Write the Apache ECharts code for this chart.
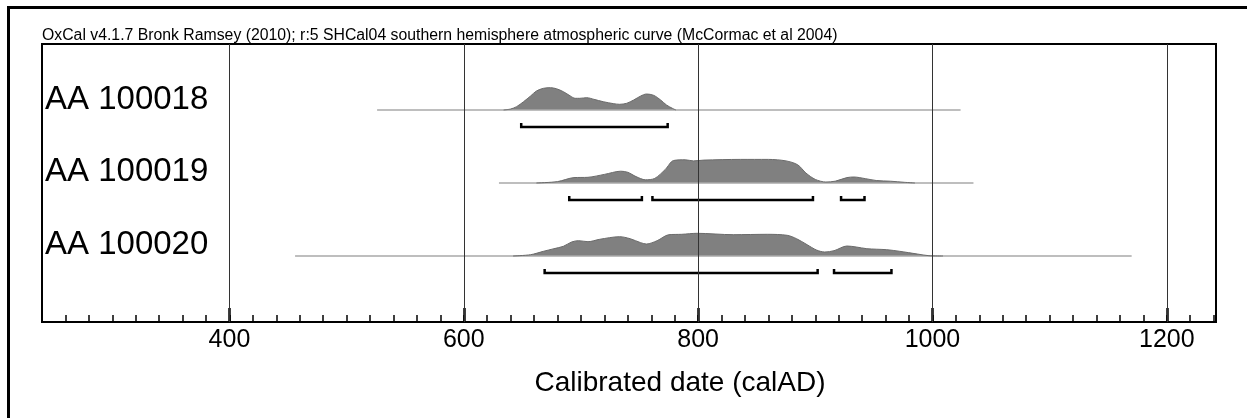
<!DOCTYPE html>
<html>
<head>
<meta charset="utf-8">
<script src="https://cdn.jsdelivr.net/npm/echarts@6/dist/echarts.min.js"></script>
<style>
  html, body { margin: 0; padding: 0; background: #fff; }
  #chart { width: 1247px; height: 418px; }
</style>
</head>
<body>
<div id="chart"></div>
<script>
// axis range (calAD) and tick values
const xMin = 240;
const xMax = 1242;
const majorTicks = [400, 600, 800, 1000, 1200];

const headerText = 'OxCal v4.1.7 Bronk Ramsey (2010); r:5 SHCal04 southern hemisphere atmospheric curve (McCormac et al 2004)';
const axisTitle = 'Calibrated date (calAD)';
const sampleNames = ['AA 100018', 'AA 100019', 'AA 100020'];

// extent of the thin line under each distribution
const extent18 = [526, 1024];
const extent19 = [630, 1035];
const extent20 = [456, 1170];

// probability distributions [year, relative height]
const density18 = [
    [634, 0], [640, 1], [645, 3.3], [651, 8.3], [657, 14], [662, 19], [668, 21.7],
    [674, 22.3], [679, 21.3], [685, 18.3], [691, 14], [695, 11.7], [699, 11.7],
    [705, 12.3], [711, 10.7], [719, 8.3], [728, 6.3], [733, 5.7], [739, 6.7],
    [745, 10], [751, 14], [756, 16], [762, 14.7], [768, 10], [773, 5], [778, 1.7], [781, 0]
];
const density19 = [
    [662, 0], [680, 1.4], [694, 5.4], [706, 5.7], [720, 8.6], [734, 11.8], [740, 10.7],
    [747, 6.4], [755, 3.2], [763, 4.6], [772, 13.6], [779, 22.5], [789, 23.2],
    [796, 22.1], [805, 22.9], [836, 23.6], [860, 23.6], [875, 22.1], [885, 18.2],
    [892, 10], [900, 3.6], [909, 1], [917, 1.8], [927, 5.4], [933, 6], [943, 4.3],
    [952, 2.5], [964, 1.8], [976, 0.7], [985, 0]
];
const density20 = [
    [642, 0], [657, 1.3], [668, 4.7], [677, 7.3], [685, 9.7], [692, 14], [698, 15.3],
    [706, 14.3], [716, 16.7], [733, 19.3], [742, 17.3], [751, 13.3], [756, 12],
    [765, 15.3], [775, 21.3], [786, 21.7], [799, 22.7], [830, 21.3], [859, 21.7],
    [876, 20.7], [884, 17.3], [893, 11.3], [901, 6], [908, 4], [916, 5.3], [927, 10],
    [935, 9], [944, 7.3], [961, 6.3], [972, 4.7], [987, 2], [997, 0.3], [1009, 0]
];

// 95.4% ranges [from, to]
const ranges18 = [[649, 774]];
const ranges19 = [[690, 752], [761, 898], [922, 942]];
const ranges20 = [[669, 902], [916, 965]];

const fontFamily = '"Liberation Sans", Arial, sans-serif';
const rowBaselines = [110, 183, 256];
const plotLeft = 42, plotRight = 31, plotTop = 44, plotBottom = 96;

const rows = [
    { extent: extent18, density: density18, ranges: ranges18 },
    { extent: extent19, density: density19, ranges: ranges19 },
    { extent: extent20, density: density20, ranges: ranges20 }
];

const chartDom = document.getElementById('chart');
const chart = echarts.init(chartDom);

const grids = [{ left: plotLeft, right: plotRight, top: plotTop, bottom: plotBottom, show: true, borderColor: '#000', borderWidth: 2, backgroundColor: 'transparent' }];
const xAxes = [
    {
        gridIndex: 0, type: 'value', position: 'bottom', min: xMin, max: xMax, interval: 20,
        axisLine: { show: true, lineStyle: { color: '#000', width: 2 } },
        axisTick: { show: true, inside: true, length: 7, lineStyle: { color: '#000', width: 1.5 } },
        axisLabel: { show: false },
        splitLine: { show: false }
    },
    {
        gridIndex: 0, type: 'value', position: 'bottom', min: xMin, max: xMax,
        axisLine: { show: false },
        axisTick: { show: true, inside: true, length: 14, customValues: majorTicks, lineStyle: { color: '#000', width: 2.5 } },
        axisLabel: {
            show: true, customValues: majorTicks, margin: 6, color: '#000', fontSize: 25, fontFamily: fontFamily,
            formatter: v => String(v)
        },
        splitLine: { show: false }
    }
];
const yAxes = [{ gridIndex: 0, type: 'value', min: 0, max: 1, show: false }];
const series = [{
    type: 'line', xAxisIndex: 0, yAxisIndex: 0, data: [], silent: true,
    markLine: {
        symbol: 'none', silent: true, label: { show: false },
        lineStyle: { color: '#333', width: 1, type: 'solid' },
        data: majorTicks.map(v => ({ xAxis: v }))
    }
}];

rows.forEach((row, i) => {
    const g = i + 1;
    grids.push({ left: plotLeft, right: plotRight, top: rowBaselines[i] - 30, height: 50 });
    xAxes.push({ gridIndex: g, type: 'value', min: xMin, max: xMax, show: false });
    yAxes.push({ gridIndex: g, type: 'value', min: -20, max: 30, show: false });
    const xi = i + 2;
    series.push({
        type: 'line', xAxisIndex: xi, yAxisIndex: g, silent: true, symbol: 'none',
        data: [[row.extent[0], 0], [row.extent[1], 0]],
        lineStyle: { color: '#a8a8a8', width: 1.5 }
    });
    series.push({
        type: 'line', xAxisIndex: xi, yAxisIndex: g, silent: true, symbol: 'none', smooth: 0.3,
        data: row.density,
        lineStyle: { color: '#6a6a6a', width: 1 },
        areaStyle: { color: '#808080', opacity: 1 }
    });
    series.push({
        type: 'custom', xAxisIndex: xi, yAxisIndex: g, silent: true,
        data: row.ranges,
        renderItem: function(params, api) {
            const a = api.coord([api.value(0), -17]);
            const b = api.coord([api.value(1), -17]);
            const up = api.coord([api.value(0), -13]);
            return {
                type: 'polyline',
                shape: { points: [[a[0], up[1]], a, b, [b[0], up[1]]] },
                style: { stroke: '#000', lineWidth: 2.5, fill: null }
            };
        }
    });
});

const option = {
    animation: false,
    title: {
        text: headerText, left: 42, top: 28, padding: 0,
        textStyle: { color: '#000', fontSize: 15.8, fontWeight: 'normal', fontFamily: fontFamily }
    },
    grid: grids,
    xAxis: xAxes,
    yAxis: yAxes,
    series: series,
    graphic: [
        { type: 'line', shape: { x1: 8, y1: 7.5, x2: 1247, y2: 7.5 }, style: { stroke: '#000', lineWidth: 3 } },
        { type: 'line', shape: { x1: 8.5, y1: 6, x2: 8.5, y2: 418 }, style: { stroke: '#000', lineWidth: 3 } },
        {
            type: 'text', x: 680, y: 383,
            style: { text: axisTitle, fill: '#000', font: '28px ' + fontFamily, align: 'center', verticalAlign: 'middle' }
        }
    ].concat(sampleNames.map((name, i) => ({
        type: 'text', x: 45, y: [100, 172, 245][i],
        style: { text: name, fill: '#000', font: '33px ' + fontFamily, verticalAlign: 'middle' }
    })))
};

chart.setOption(option);
</script>
</body>
</html>
